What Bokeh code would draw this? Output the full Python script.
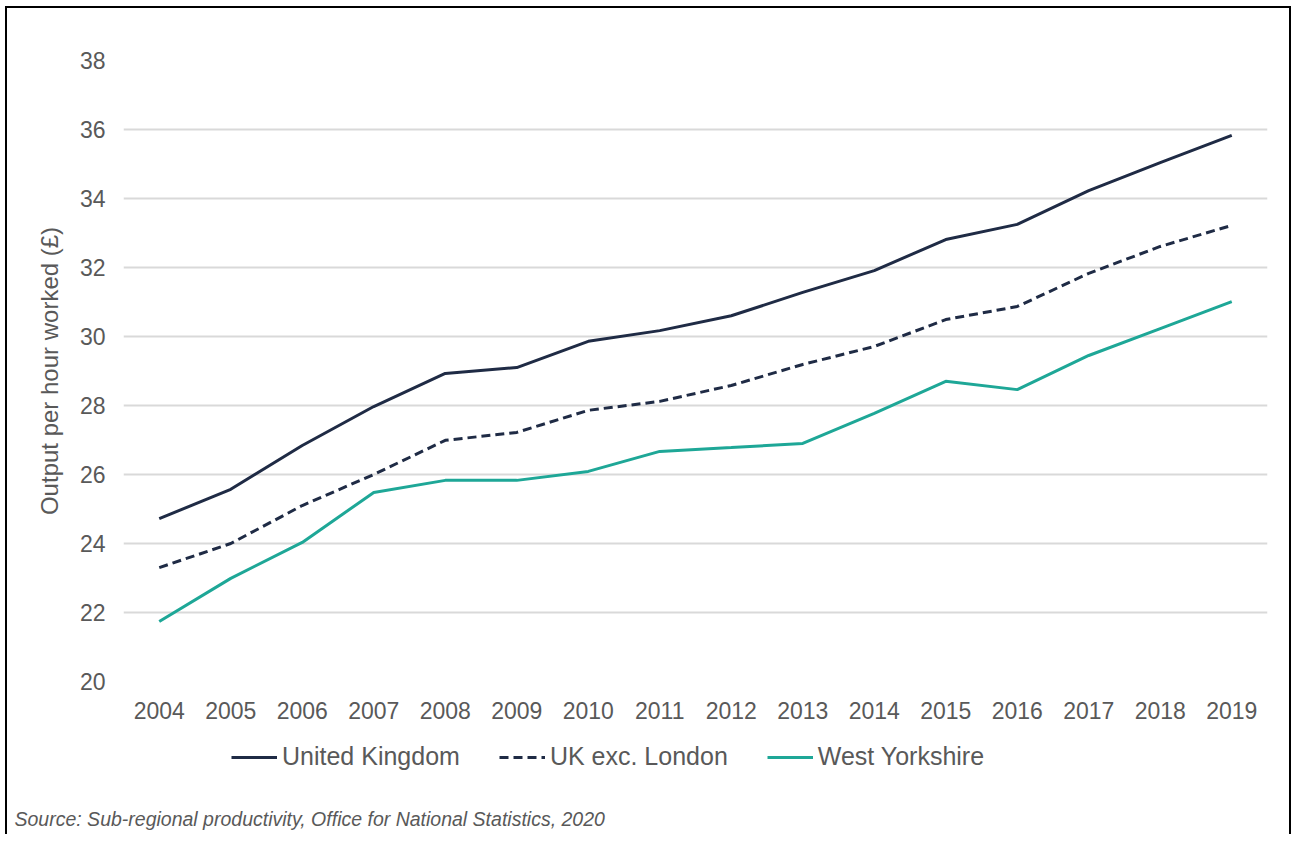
from bokeh.plotting import figure
from bokeh.layouts import column
from bokeh.models import Range1d, FactorRange, Legend, LegendItem, Title
from bokeh.embed import file_html
from bokeh.resources import INLINE

years = [str(y) for y in range(2004, 2020)]
uk = [24.72, 25.57, 26.84, 27.97, 28.93, 29.10, 29.86, 30.17, 30.60, 31.28, 31.91, 32.81, 33.25, 34.23, 35.04, 35.83]
uk_exc_london = [23.30, 24.00, 25.10, 26.00, 26.99, 27.22, 27.86, 28.12, 28.58, 29.19, 29.71, 30.49, 30.87, 31.83, 32.61, 33.22]
west_yorkshire = [21.74, 22.99, 24.03, 25.48, 25.83, 25.83, 26.09, 26.67, 26.78, 26.90, 27.77, 28.70, 28.46, 29.45, 30.23, 31.01]
y_ticks = [20, 22, 24, 26, 28, 30, 32, 34, 36, 38]
series_names = ["United Kingdom", "UK exc. London", "West Yorkshire"]
source_text = "Source: Sub-regional productivity, Office for National Statistics, 2020"

FONT = "Liberation Sans"
GREY = "#595959"
NAVY = "#1f2b45"
TEAL = "#1ea797"
styles = [dict(line_color=NAVY, line_width=3),
          dict(line_color=NAVY, line_width=3, line_dash="9 5"),
          dict(line_color=TEAL, line_width=3)]

# main chart
p = figure(frame_width=1144, frame_height=621, x_range=FactorRange(*years), y_range=Range1d(20, 38),
           output_backend="svg", toolbar_location=None,
           min_border_left=116, min_border_right=22, min_border_top=52, min_border_bottom=60)
p.outline_line_color = None
p.background_fill_color = "white"
p.border_fill_color = "white"
p.xgrid.grid_line_color = None
p.ygrid.grid_line_color = "#d9d9d9"
p.ygrid.grid_line_width = 2
p.yaxis.ticker = y_ticks

for ax in (p.xaxis, p.yaxis):
    ax.axis_line_color = None
    ax.major_tick_line_color = None
    ax.minor_tick_line_color = None
    ax.major_tick_out = 0
    ax.major_tick_in = 0
    ax.major_label_text_font = FONT
    ax.major_label_text_font_size = "23px"
    ax.major_label_text_color = GREY
p.xaxis.major_label_standoff = 20
p.yaxis.major_label_standoff = 18
p.yaxis.axis_label = "Output per hour worked (£)"
p.yaxis.axis_label_text_font = FONT
p.yaxis.axis_label_text_font_size = "24px"
p.yaxis.axis_label_text_font_style = "normal"
p.yaxis.axis_label_text_color = GREY
p.yaxis.axis_label_standoff = 14

for vals, st in zip([uk, uk_exc_london, west_yorkshire], styles):
    p.line(years, vals, **st)

# legend + source strip (frame aligned with the main chart)
p2 = figure(frame_width=1144, frame_height=60, x_range=Range1d(0, 1), y_range=Range1d(0, 1),
            output_backend="svg", toolbar_location=None,
            x_axis_location=None, y_axis_location=None,
            min_border_left=116, min_border_right=22, min_border_top=0, min_border_bottom=0)
p2.outline_line_color = None
p2.grid.grid_line_color = None
p2.background_fill_color = "white"
p2.border_fill_color = "white"

nan = float("nan")
proxies = [p2.line([nan], [nan], **st) for st in styles]
legend = Legend(items=[LegendItem(label=n, renderers=[r]) for n, r in zip(series_names, proxies)],
                orientation="horizontal", location=(108, 30),
                label_text_font=FONT, label_text_font_size="25px", label_text_color=GREY,
                glyph_width=46, label_standoff=5, spacing=39,
                border_line_color=None, background_fill_alpha=0,
                margin=0, padding=0)
p2.add_layout(legend, "center")

src = Title(text=source_text, align="left", text_font=FONT, text_font_style="italic",
            text_font_size="19.5px", text_color=GREY, offset=-109, standoff=9)
p2.add_layout(src, "below")

layout = column(p, p2, spacing=0)
layout.styles = {"border-left": "2px solid black", "border-top": "2px solid black",
                 "border-right": "2px solid black", "margin-left": "5px", "margin-top": "6px"}

open("out.html", "w").write(file_html(layout, INLINE))
